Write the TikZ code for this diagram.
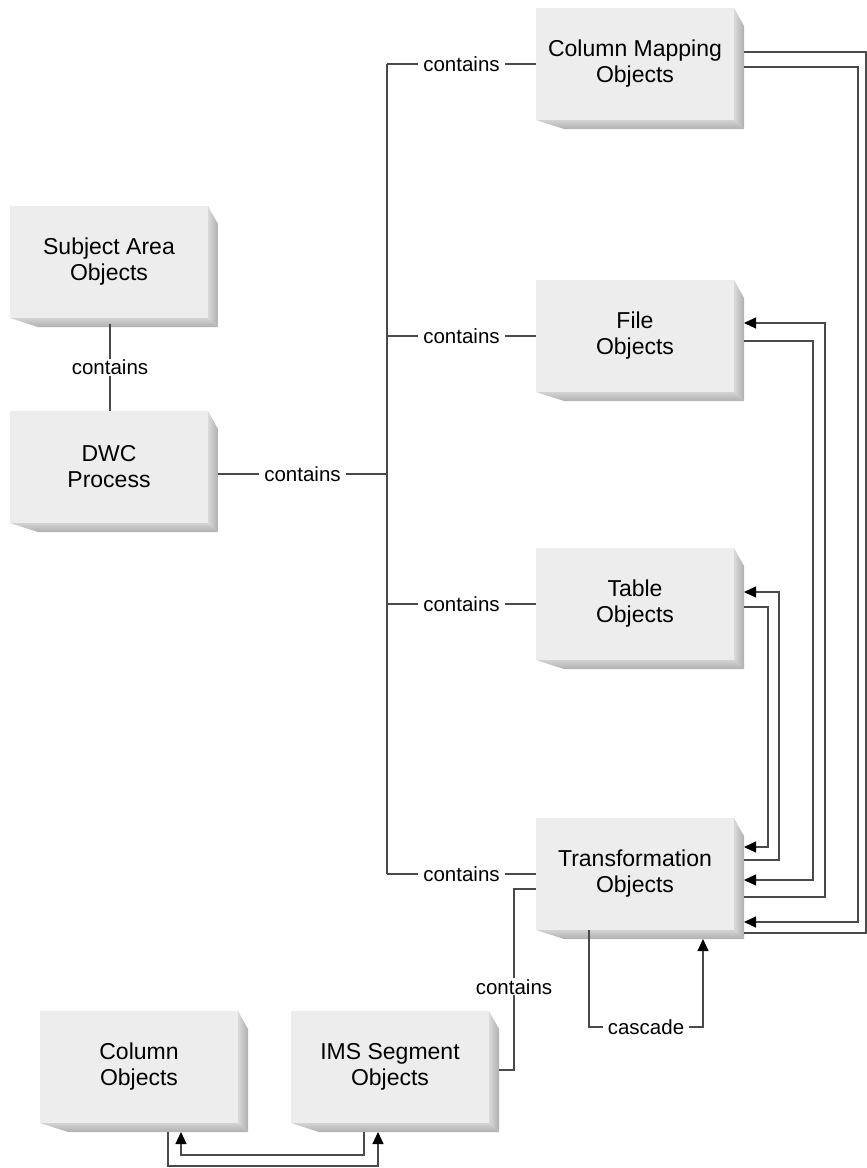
\documentclass[tikz,border=0pt]{standalone}
\usepackage{fontspec}
\setmainfont{Liberation Sans}
\usetikzlibrary{arrows.meta,calc}
\definecolor{facegray}{HTML}{EDEDED}
\definecolor{linegray}{HTML}{4A4A4A}
\newcommand{\boxshadow}[1]{%
  \shade[left color=gray!30, right color=gray!62]
    (#1.north east) -- ++(10,18) -- ($(#1.south east)+(10,9)$) -- (#1.south east) -- cycle;
  \shade[top color=gray!35, bottom color=gray!62]
    (#1.south west) -- (#1.south east) -- ($(#1.south east)+(10,9)$) -- ($(#1.south west)+(28,9)$) -- cycle;
}
\begin{document}
\begin{tikzpicture}[x=1pt,y=-1pt,
  objbox/.style={fill=facegray, minimum width=198pt, minimum height=112pt,
    inner sep=0pt, outer sep=0pt, align=center,
    font=\fontsize{23}{26}\selectfont},
  lbl/.style={fill=white, inner xsep=5pt, inner ysep=1pt,
    font=\fontsize{20.5}{22}\selectfont},
  conn/.style={draw=linegray, line width=1.1pt},
  arr/.style={conn, -{Triangle[length=12pt,width=11pt,color=black]}}]
\useasboundingbox (0,0) rectangle (867,1168);

% boxes
\node[objbox] (sa)   at (109,262)  {Subject Area\\Objects};
\node[objbox] (dwc)  at (109,467)  {DWC\\Process};
\node[objbox] (cm)   at (635,64)   {Column Mapping\\Objects};
\node[objbox] (file) at (635,336)  {File\\Objects};
\node[objbox] (tab)  at (635,604)  {Table\\Objects};
\node[objbox] (tr)   at (635,874)  {Transformation\\Objects};
\node[objbox] (col)  at (139,1067) {Column\\Objects};
\node[objbox] (ims)  at (390,1067) {IMS Segment\\Objects};
\foreach \n in {sa,dwc,cm,file,tab,tr,col,ims} {\boxshadow{\n}}

% containment tree
\draw[conn] ($(sa.south)+(1,6)$) -- node[lbl]{contains} ($(dwc.north)+(1,0)$);
\coordinate (bus) at (387,474);
\draw[conn] ($(dwc.east)+(10,7)$) -- node[lbl]{contains} (bus);
\draw[conn] (bus |- cm.west) -- (bus |- tr.west);
\foreach \n in {cm,file,tab,tr}
  {\draw[conn] (bus |- \n.west) -- node[lbl]{contains} (\n.west);}

% right-hand links
\draw[conn] ($(cm.east)+(10,-12)$) -- ++(122,0) |- ($(tr.east)+(10,59)$);
\draw[arr]  ($(cm.east)+(10,3)$) -- ++(114,0) |- ($(tr.east)+(10,48)$);
\draw[arr]  ($(file.east)+(10,5)$) -- ++(69,0) |- ($(tr.east)+(10,6)$);
\draw[arr]  ($(tr.east)+(10,23)$) -- ++(81,0) |- ($(file.east)+(10,-13)$);
\draw[arr]  ($(tab.east)+(10,3)$) -- ++(24,0) |- ($(tr.east)+(10,-27)$);
\draw[arr]  ($(tr.east)+(10,-14)$) -- ++(35,0) |- ($(tab.east)+(10,-12)$);

% cascade
\draw[arr] ($(tr.south)+(-46,0)$) -- ++(0,97) -| node[lbl,pos=0.25]{cascade} ($(tr.south)+(68,9)$);

% IMS segment contains
\coordinate (imsj) at (514,1070);
\draw[conn] ($(tr.west)+(0,15)$) -| node[lbl,pos=0.77]{contains} (imsj) -- ($(ims.east)+(10,3)$);

% bottom links
\draw[arr] ($(col.south)+(29,9)$) -- ++(0,34) -| ($(ims.south)+(-12,9)$);
\draw[arr] ($(ims.south)+(-26,9)$) -- ++(0,23) -| ($(col.south)+(42,9)$);
\end{tikzpicture}
\end{document}
